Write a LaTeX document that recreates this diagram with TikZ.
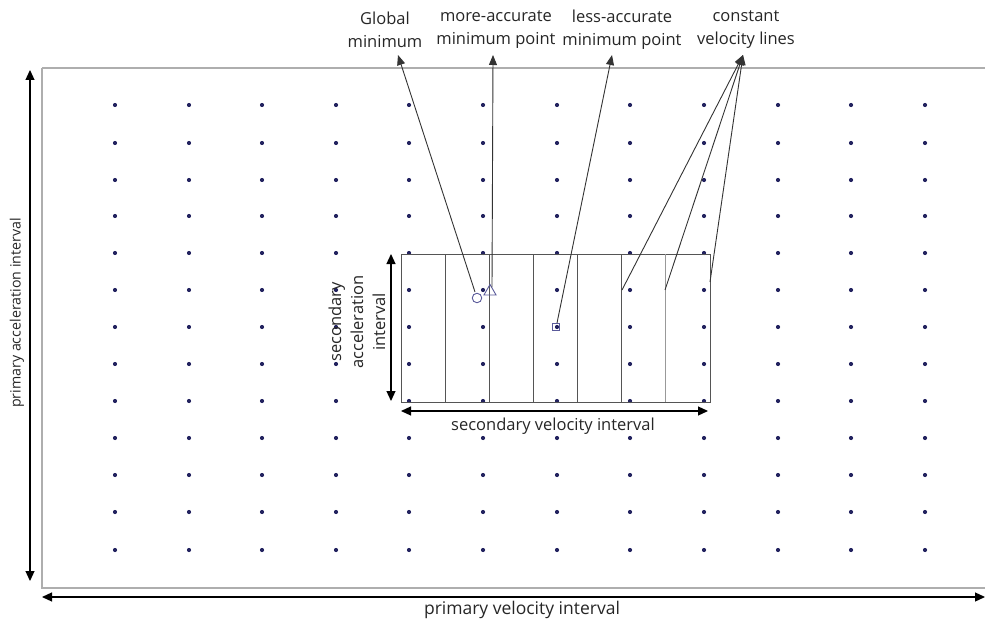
\documentclass[tikz,border=0pt]{standalone}
\usepackage{fontspec}
\setmainfont{Open Sans}
\usetikzlibrary{arrows.meta,shapes.geometric}
\definecolor{dotc}{HTML}{23235F}
\definecolor{framec}{HTML}{AEAEAE}
\definecolor{boxc}{HTML}{555555}
\definecolor{markc}{HTML}{5A5A9A}
\tikzset{
  frameline/.style={draw=framec,line width=1.6pt},
  boxline/.style={draw=boxc,line width=1pt},
  dimarrow/.style={draw=black,line width=1.2pt,{Triangle[length=10pt,width=9pt]}-{Triangle[length=10pt,width=9pt]}},
  leader/.style={draw=black!80,line width=0.9pt,-{Triangle[length=10pt,width=8pt]}},
  dot/.style={circle,fill=dotc,inner sep=0pt,minimum size=4.2pt},
  lab/.style={font=\fontsize{16.5}{23}\selectfont,align=center,text=black!85,inner sep=0pt},
}
\begin{document}
\begin{tikzpicture}[x=1pt,y=-1pt]
\useasboundingbox (0,0) rectangle (985,623);
% outer frame
\draw[frameline] (42,68) -- (985,68);
\draw[frameline] (42,68) -- (42,588) -- (985,588);
% dots grid
\foreach \i/\x in {1/115,2/189,3/262,4/336,5/409,6/483,7/557,8/630,9/704,10/778,11/851,12/925}{
  \foreach \j/\y in {1/105,2/143,3/180,4/216,5/253,6/290,7/327,8/364,9/401,10/438,11/475,12/512,13/550}{
    \node[dot] (d-\i-\j) at (\x,\y) {};
  }
}
% inner box
\coordinate (bTL) at (401,254);
\coordinate (bBR) at (710,402);
\draw[boxline] (bTL) rectangle (bBR);
\foreach \k/\x in {1/445,2/489,3/533,4/577,5/621}{
  \coordinate (vt\k) at (\x,254);
  \coordinate (vb\k) at (\x,402);
  \draw[boxline] (vt\k) -- (vb\k);
}
\coordinate (vt6) at (665,254);
\coordinate (vb6) at (665,402);
\draw[draw=black!40,line width=0.8pt] (vt6) -- (vb6);
% markers
\node[circle,draw=markc,line width=0.9pt,inner sep=0pt,minimum size=9.5pt] (gmin) at (477,298) {};
\node[regular polygon,regular polygon sides=3,draw=markc,line width=0.9pt,inner sep=0pt,minimum size=14pt] (mamin) at (490,291.5) {};
\node[rectangle,draw=markc,line width=0.9pt,inner sep=0pt,minimum size=7.5pt] (lamin) at (556,327) {};
% labels
\node[lab] (lglobal) at (385,30) {Global\\minimum};
\node[lab] (lmore) at (496,30) {more-accurate\\minimum point};
\node[lab] (lless) at (622,30) {less-accurate\\minimum point};
\node[lab] (lconst) at (746,30) {constant\\velocity lines};
% leader endpoints
\coordinate (pg) at (475,292);
\coordinate (pm) at (492,287);
\coordinate (pl) at (557,323);
\coordinate (pc1) at (622,290);
\coordinate (pc2) at (665,290);
\coordinate (pc3) at (710,282);
\coordinate (tg) at (398,55);
\coordinate (tm) at (493,55);
\coordinate (tl) at (612,55);
\coordinate (tc) at (743,55);
\draw[leader] (pg) -- (tg);
\draw[leader] (pm) -- (tm);
\draw[leader] (pl) -- (tl);
\draw[leader] (pc1) -- (tc);
\draw[leader] (pc2) -- (tc);
\draw[leader] (pc3) -- (tc);
% dimension arrows
\coordinate (paT) at (30,70);
\coordinate (paB) at (30,581);
\draw[dimarrow] (paT) -- (paB);
\node[lab,rotate=90,font=\fontsize{14.2}{20}\selectfont] (lpa) at (17,313) {primary acceleration interval};
\coordinate (pvL) at (42,597);
\coordinate (pvR) at (985,597);
\draw[dimarrow] (pvL) -- (pvR);
\node[lab,font=\fontsize{17.5}{22}\selectfont] (lpv) at (522,610) {primary velocity interval};
\coordinate (saT) at (391,254);
\coordinate (saB) at (391,401);
\draw[dimarrow] (saT) -- (saB);
\node[lab,rotate=90,font=\fontsize{16.5}{22}\selectfont] (lsa) at (357,322) {secondary\\acceleration\\interval};
\coordinate (svL) at (401,411);
\coordinate (svR) at (708,411);
\draw[dimarrow] (svL) -- (svR);
\node[lab] (lsv) at (553,426) {secondary velocity interval};
\end{tikzpicture}
\end{document}
